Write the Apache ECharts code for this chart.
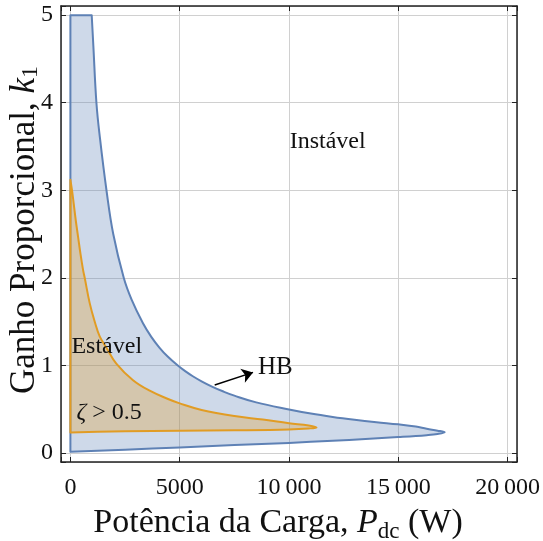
<!DOCTYPE html>
<html>
<head>
<meta charset="utf-8">
<script src="https://cdn.jsdelivr.net/npm/echarts@6/dist/echarts.min.js"></script>
<style>
  html, body { margin: 0; padding: 0; background: #fff; }
  #chart { width: 543px; height: 541px; }
</style>
</head>
<body>
<div id="chart"></div>
<script>
// blue region (HB boundary): upper curve from top-left to tip, then lower edge back to P = 0
const blueUpperP = [0, 975, 1050, 1190, 1350, 1650, 1960, 2440, 2800, 3320, 3700, 4080, 4450, 4900, 5250, 5600, 6000, 6500, 7000, 7500, 8500, 10000, 11000, 12000, 13000, 14000, 15000, 15800, 16300, 16800, 17120]
const blueUpperK = [5.0, 5.0, 4.65, 4.0, 3.6, 3.0, 2.5, 2.0, 1.75, 1.48, 1.325, 1.2, 1.1, 1.0, 0.933, 0.875, 0.817, 0.754, 0.7, 0.653, 0.576, 0.495, 0.448, 0.41, 0.378, 0.35, 0.325, 0.3, 0.274, 0.253, 0.234]
const blueLowerP = [16800, 16300, 15000, 13500, 12000, 10000, 7500, 5000, 2500, 0]
const blueLowerK = [0.215, 0.202, 0.18, 0.158, 0.138, 0.113, 0.088, 0.062, 0.035, 0.012]

// orange region (zeta > 0.5)
const orangeUpperP = [0, 73, 150, 243, 350, 457, 579, 654, 883, 1110, 1340, 1650, 2100, 2865, 3628, 4467, 5000, 6000, 7500, 8800, 10000, 10900, 11260]
const orangeUpperK = [3.12, 3.0, 2.85, 2.66, 2.47, 2.28, 2.09, 2.0, 1.71, 1.5, 1.33, 1.2, 1.02, 0.83, 0.71, 0.615, 0.565, 0.49, 0.42, 0.38, 0.338, 0.313, 0.29]
const orangeLowerP = [10900, 10000, 7500, 5000, 2500, 0]
const orangeLowerK = [0.278, 0.267, 0.257, 0.251, 0.245, 0.233]

const noteText = ['Instável', 'Estável', '{i|ζ} > 0.5', 'HB']
const noteP = [10030, 46, 275, 8583]
const noteK = [3.556, 1.21, 0.46, 0.976]

const arrowFrom = [6602, 0.774]
const arrowTo = [8354, 0.919]

const serif = "'Liberation Serif', 'DejaVu Serif', serif"
const blue = '#5E81B5'
const orange = '#E19C24'

const chart = echarts.init(document.getElementById('chart'))

// corners are doubled so the bezier smoothing keeps them sharp
function polygon(xs, ys, corners, stroke, fill) {
  return function (params, api) {
    const points = []
    xs.forEach((x, i) => {
      const pt = api.coord([x, ys[i]])
      points.push(pt)
      if (corners.indexOf(i) >= 0) points.push(pt.slice())
    })
    return {
      type: 'polygon',
      shape: { points: points, smooth: 0.4 },
      style: { fill: fill, stroke: stroke, lineWidth: 2, lineJoin: 'round' }
    }
  }
}

function xLabel(v) {
  if (v % 5000 !== 0) return ''
  const s = String(v)
  return v >= 10000 ? s.slice(0, s.length - 3) + '\u2009' + s.slice(-3) : s
}

const frameAxis = {
  axisLine: { show: true, onZero: false, lineStyle: { color: '#222', width: 1.5 } },
  axisTick: { show: true, inside: true, length: 5, lineStyle: { color: '#222', width: 1 } }
}

const blueP = blueUpperP.concat(blueLowerP)
const blueK = blueUpperK.concat(blueLowerK)
const orangeP = orangeUpperP.concat(orangeLowerP)
const orangeK = orangeUpperK.concat(orangeLowerK)

const option = {
  backgroundColor: '#fff',
  animation: false,
  grid: { left: 61, right: 26, top: 6, bottom: 79, outerBoundsMode: 'none' },
  xAxis: [
    {
      type: 'value',
      min: -430,
      max: 20430,
      ...frameAxis,
      axisLabel: {
        formatter: xLabel,
        color: '#111',
        fontFamily: serif,
        fontSize: 24,
        margin: 14
      },
      splitLine: { show: true, lineStyle: { color: '#d0d0d0', width: 1 } },
      name: 'Potência da Carga, {i|P}{s|dc} (W)',
      nameLocation: 'middle',
      nameGap: 41,
      nameMoveOverlap: false,
      nameTextStyle: {
        color: '#111',
        fontFamily: serif,
        fontSize: 34,
        lineHeight: 40,
        padding: [0, 22, 0, 0],
        rich: {
          i: { fontFamily: serif, fontSize: 34, fontStyle: 'italic', color: '#111', lineHeight: 40 },
          s: { fontFamily: serif, fontSize: 23, color: '#111', lineHeight: 23, verticalAlign: 'bottom' }
        }
      }
    },
    {
      type: 'value',
      position: 'top',
      min: -430,
      max: 20430,
      ...frameAxis,
      axisLabel: { show: false },
      splitLine: { show: false }
    }
  ],
  yAxis: [
    {
      type: 'value',
      min: -0.105,
      max: 5.105,
      ...frameAxis,
      axisLabel: {
        formatter: (v) => (Number.isInteger(v) ? String(v) : ''),
        color: '#111',
        fontFamily: serif,
        fontSize: 24,
        margin: 8
      },
      splitLine: { show: true, lineStyle: { color: '#d0d0d0', width: 1 } },
      name: 'Ganho Proporcional, {i|k}{s|1}',
      nameLocation: 'middle',
      nameGap: 18,
      nameMoveOverlap: false,
      nameTextStyle: {
        color: '#111',
        fontFamily: serif,
        fontSize: 35,
        lineHeight: 36,
        padding: [0, 0, 0, 8],
        rich: {
          i: { fontFamily: serif, fontSize: 35, fontStyle: 'italic', color: '#111', lineHeight: 36 },
          s: { fontFamily: serif, fontSize: 24, color: '#111', lineHeight: 24, verticalAlign: 'bottom' }
        }
      }
    },
    {
      type: 'value',
      position: 'right',
      min: -0.105,
      max: 5.105,
      ...frameAxis,
      axisLabel: { show: false },
      splitLine: { show: false }
    }
  ],
  series: [
    {
      type: 'custom',
      name: 'HB',
      clip: true,
      data: [[0, 0]],
      renderItem: polygon(blueP, blueK, [0, 1, blueP.length - 1], blue, 'rgba(94,129,181,0.3)')
    },
    {
      type: 'custom',
      name: 'zeta',
      clip: true,
      data: [[0, 0]],
      renderItem: polygon(orangeP, orangeK, [0, orangeP.length - 1], orange, 'rgba(225,156,36,0.3)')
    },
    {
      type: 'lines',
      coordinateSystem: 'cartesian2d',
      symbol: ['none', 'arrow'],
      symbolSize: 11,
      lineStyle: { color: '#000', width: 1.5, opacity: 1 },
      data: [{ coords: [arrowFrom, arrowTo] }]
    },
    {
      type: 'custom',
      name: 'notes',
      data: noteP.map((p, i) => [p, noteK[i]]),
      renderItem: function (params, api) {
        const i = params.dataIndex
        const pos = api.coord([noteP[i], noteK[i]])
        return {
          type: 'text',
          x: pos[0],
          y: pos[1],
          style: {
            text: noteText[i],
            fill: '#111',
            fontFamily: serif,
            fontSize: i === 3 ? 25 : 24,
            align: 'left',
            verticalAlign: 'middle',
            rich: {
              i: { fontFamily: serif, fontSize: 24, fontStyle: 'italic', fill: '#111' }
            }
          }
        }
      }
    }
  ]
}

chart.setOption(option)
</script>
</body>
</html>
